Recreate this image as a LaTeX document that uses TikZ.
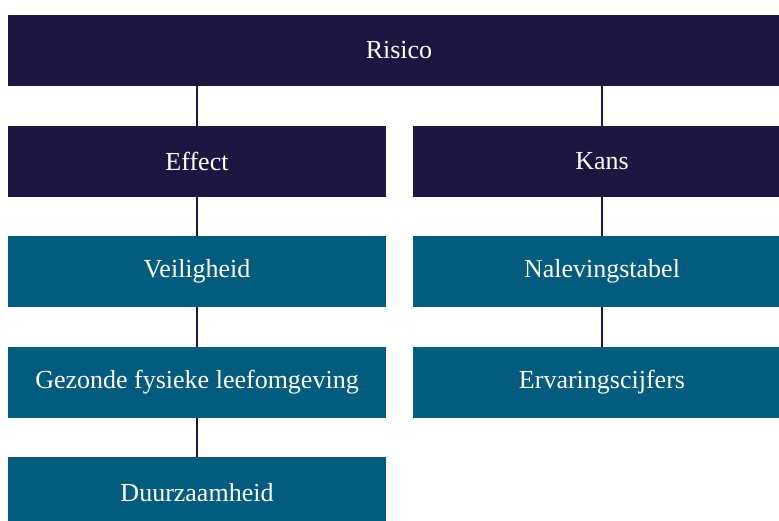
\documentclass[tikz,border=0pt]{standalone}
\usepackage{fontspec}
\setmainfont{Liberation Serif}
\usepackage{tikz}

\definecolor{navy}{HTML}{1D1640}
\definecolor{petrol}{HTML}{035C7E}

\begin{document}
\begin{tikzpicture}[x=0.75pt,y=-0.75pt,
    box/.style={shape=rectangle,inner sep=0pt,minimum width=283.5pt,minimum height=53.25pt,
      text=white,font=\fontsize{19.5}{23}\selectfont},
    headbox/.style={box,fill=navy},
    subbox/.style={box,fill=petrol},
    link/.style={draw=navy,line width=1.5pt}]
      \useasboundingbox (0,0) rectangle (779,521);

      \node[headbox,minimum width=586.5pt](Risico) at (399,50.5) {Risico};
      \node[headbox](Effect) at (197,161.5) {Effect};
      \node[headbox](Kans) at (602,161.5) {Kans};
      \node[subbox](Veiligheid) at (197,271.5) {Veiligheid};
      \node[subbox](Naleving) at (602,271.5) {Nalevingstabel};
      \node[subbox](Gezond) at (197,382.5) {Gezonde fysieke leefomgeving};
      \node[subbox](Ervaring) at (602,382.5) {Ervaringscijfers};
      \node[subbox](Duurzaam) at (197,492.5) {Duurzaamheid};

      \path [link] (Risico.south -| Effect.north) edge (Effect.north);
      \path [link] (Risico.south -| Kans.north) edge (Kans.north);
      \path [link] (Effect) edge (Veiligheid);
      \path [link] (Veiligheid) edge (Gezond);
      \path [link] (Gezond) edge (Duurzaam);
      \path [link] (Kans) edge (Naleving);
      \path [link] (Naleving) edge (Ervaring);
    \end{tikzpicture}
\end{document}
